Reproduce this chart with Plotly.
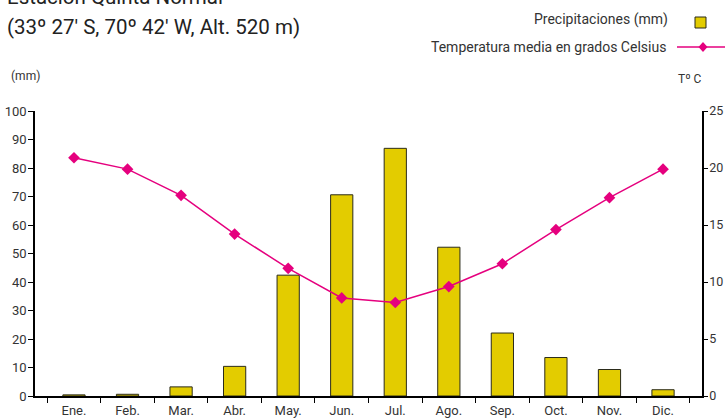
import plotly.graph_objects as go

months = ["Ene.", "Feb.", "Mar.", "Abr.", "May.", "Jun.", "Jul.", "Ago.", "Sep.", "Oct.", "Nov.", "Dic."]
precip_mm = [0.4, 0.6, 3.2, 10.4, 42.4, 70.6, 86.9, 52.2, 22.1, 13.5, 9.3, 2.2]
temp_c = [20.9, 19.9, 17.6, 14.2, 11.2, 8.6, 8.2, 9.6, 11.6, 14.6, 17.4, 19.9]
left_ticks = list(range(0, 101, 10))
right_ticks = list(range(0, 26, 5))

BAR = "#E3CC00"
LINE = "#E5007E"
TXT = "#333333"
FONT = "Roboto"

W, H = 725, 418
L, R, T, B = 35, 23, 111, 22
pw, ph = W - L - R, H - T - B

def px(x):
    return (x - L) / pw

def py(y):
    return (H - B - y) / ph

fig = go.Figure()
fig.add_trace(go.Bar(
    x=months, y=precip_mm, marker=dict(color=BAR, line=dict(color="#2b2b1a", width=1)),
    yaxis="y", showlegend=False,
))
fig.add_trace(go.Scatter(
    x=months, y=temp_c, mode="lines+markers", yaxis="y2",
    line=dict(color=LINE, width=1.5),
    marker=dict(symbol="diamond", size=9, color=LINE),
    showlegend=False,
))

axis_common = dict(
    showline=True, linecolor="black", linewidth=1.5, ticks="outside", ticklen=5,
    tickcolor="black", showgrid=False, zeroline=False, automargin=False,
    tickfont=dict(family=FONT, size=13, color=TXT),
)

fig.update_layout(
    width=W, height=H, margin=dict(l=L, r=R, t=T, b=B, autoexpand=False),
    paper_bgcolor="white", plot_bgcolor="white",
    bargap=0.585,
    font=dict(family=FONT, color=TXT),
    xaxis=dict(**axis_common, tickson="boundaries", ticklabelstandoff=2),
    yaxis=dict(**axis_common, range=[0, 100], tickvals=left_ticks, ticklabelstandoff=-1),
    yaxis2=dict(**axis_common, range=[0, 25], tickvals=right_ticks, overlaying="y", side="right",
                ticklabelstandoff=-1),
    showlegend=False,
)
fig.update_layout(yaxis2_ticklen=4, yaxis2_tickfont_size=12.5)

ann = [
    dict(text="Estación Quinta Normal", x=px(5), y=py(-3), xanchor="left", yanchor="middle",
         font=dict(size=20.5, color="#222222")),
    dict(text="(33º 27' S, 70º 42' W, Alt. 520 m)", x=px(5), y=py(27), xanchor="left", yanchor="middle",
         font=dict(size=20.5, color="#222222")),
    dict(text="(mm)", x=px(25), y=py(76), xanchor="center", yanchor="middle",
         font=dict(size=12, color=TXT)),
    dict(text="Tº C", x=px(690), y=py(79), xanchor="center", yanchor="middle",
         font=dict(size=12, color=TXT)),
    dict(text="Precipitaciones (mm)", x=px(670), y=py(20), xanchor="right", yanchor="middle",
         font=dict(size=14, color=TXT)),
    dict(text="Temperatura media en grados Celsius", x=px(668), y=py(47), xanchor="right", yanchor="middle",
         font=dict(size=14, color=TXT)),
]
for a in ann:
    a.update(xref="paper", yref="paper", showarrow=False)
fig.update_layout(annotations=ann)

dx, dy = 4.5, 5
shapes = [
    dict(type="rect", x0=px(695), x1=px(706), y0=py(28), y1=py(17),
         fillcolor=BAR, line=dict(color="#2b2b1a", width=1)),
    dict(type="line", x0=px(677), x1=px(725), y0=py(47), y1=py(47),
         line=dict(color=LINE, width=1.5)),
    dict(type="path",
         path=f"M {px(703 - dx)} {py(47)} L {px(703)} {py(47 - dy)} L {px(703 + dx)} {py(47)} L {px(703)} {py(47 + dy)} Z",
         fillcolor=LINE, line=dict(color=LINE, width=0)),
]
for s in shapes:
    s.update(xref="paper", yref="paper")
fig.update_layout(shapes=shapes)

fig.write_html("out.html", config={"displayModeBar": False},
               post_script="document.body.style.margin='0px';document.body.style.overflow='hidden';")
